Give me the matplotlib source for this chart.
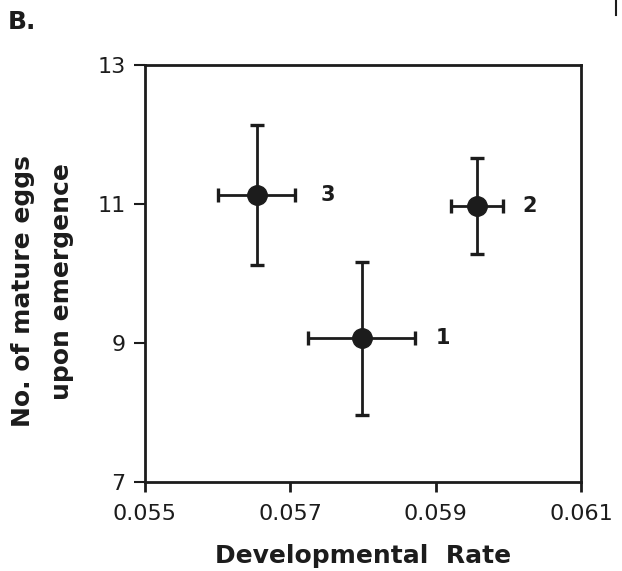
import matplotlib
matplotlib.use("Agg")
import matplotlib.pyplot as plt
from matplotlib.lines import Line2D

plt.rcParams['font.family'] = ['DejaVu Sans']

# Developmental rate vs. mature eggs for three groups
groups = ["1", "2", "3"]
dev_rate = [0.05798, 0.05957, 0.05654]
dev_rate_err = [0.00074, 0.00036, 0.00053]
eggs = [9.07, 10.97, 11.13]
eggs_err = [1.10, 0.69, 1.01]

x_ticks = [0.055, 0.057, 0.059, 0.061]
x_tick_labels = ["0.055", "0.057", "0.059", "0.061"]
y_ticks = [7, 9, 11, 13]

W, H = 622, 571
fig = plt.figure(figsize=(W / 100, H / 100), dpi=100)
ax = fig.add_axes([145 / W, 1 - 482 / H, (581 - 145) / W, (482 - 65) / H])

ink = "#1c1c1c"
ax.errorbar(dev_rate, eggs, xerr=dev_rate_err, yerr=eggs_err,
            fmt="o", color=ink, ecolor=ink, markersize=14,
            elinewidth=2.0, capsize=5, capthick=2.4, zorder=3)

# gap (points) between the right whisker cap and each group label
label_gap = {"1": 15, "2": 14, "3": 18}
for g, x, xr, y in zip(groups, dev_rate, dev_rate_err, eggs):
    ax.annotate(g, xy=(x + xr, y), xytext=(label_gap[g], 0),
                textcoords="offset points", ha="left", va="center",
                fontsize=15, fontweight="bold", color=ink)

ax.set_xlim(0.055, 0.061)
ax.set_ylim(7, 13)
ax.set_xticks(x_ticks)
ax.set_xticklabels(x_tick_labels)
ax.set_yticks(y_ticks)

for s in ax.spines.values():
    s.set_linewidth(2.0)
    s.set_color(ink)

ax.tick_params(axis="x", direction="out", length=7, width=2.0, pad=9,
               labelsize=16, colors=ink)
ax.tick_params(axis="y", direction="out", length=8, width=1.5, pad=6,
               labelsize=16, colors=ink)

# axis titles
fig.text(363 / W, 1 - 556 / H, "Developmental  Rate", fontsize=18,
         fontweight="bold", color=ink, ha="center", va="center")
fig.text(23 / W, 1 - 291 / H, "No. of mature eggs", fontsize=18,
         fontweight="bold", color=ink, ha="center", va="center",
         rotation=90, rotation_mode="anchor")
fig.text(62 / W, 1 - 282 / H, "upon emergence", fontsize=18,
         fontweight="bold", color=ink, ha="center", va="center",
         rotation=90, rotation_mode="anchor")

fig.text(8 / W, 1 - 22 / H, "B.", fontsize=18, fontweight="bold",
         color=ink, ha="left", va="center")
fig.add_artist(Line2D([616 / W, 616 / W], [1.0, 1 - 15 / H],
                      transform=fig.transFigure, color=ink, linewidth=1.5))

fig.savefig("out.png", dpi=100)
